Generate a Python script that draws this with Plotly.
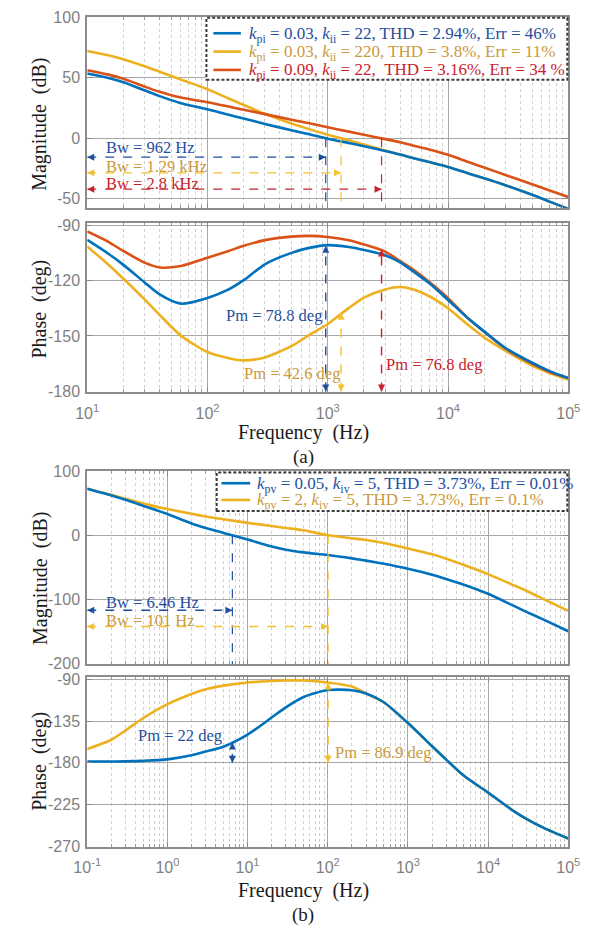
import plotly.graph_objects as go

# ---------------- (a) current loop: frequency response ----------------
freq_a = [10, 15, 20, 30, 40, 60, 100, 150, 200, 300, 500, 700,
          1000, 1500, 2000, 3000, 4000, 5000, 7000, 10000, 15000, 20000,
          30000, 50000, 70000, 100000]

mag_a_1 = [53.5, 49.8, 46.3, 39.6, 34.8, 29.0, 23.9, 19.3, 16.3, 11.8, 6.5, 3.3,
           -0.4, -4.0, -6.6, -10.6, -13.6, -16.2, -19.8, -23.8, -29.4, -33.2,
           -38.9, -46.8, -52.5, -58.5]
mag_a_2 = [72.2, 68.6, 65.3, 59.5, 55.0, 48.6, 40.5, 32.8, 27.5, 20.2, 12.2, 7.5,
           2.9, -1.8, -5.2, -10.2, -13.5, -16.2, -19.8, -23.8, -29.4, -33.2,
           -38.9, -46.8, -52.5, -58.5]
mag_a_3 = [56.2, 52.6, 49.2, 42.7, 38.4, 33.6, 29.8, 26.2, 23.5, 19.9, 15.3, 12.3,
           9.0, 5.4, 2.8, -0.8, -3.4, -5.8, -9.4, -13.8, -20.0, -24.3,
           -30.4, -38.2, -43.3, -48.7]

ph_a_1 = [-98.0, -105.5, -111.5, -121.0, -127.5, -132.5, -129.4, -124.8, -119.8,
          -111.2, -105.0, -102.3, -100.8, -101.8, -103.4, -106.3, -110.2, -114.5,
          -121.5, -130.5, -141.0, -147.5, -156.5, -164.5, -169.0, -172.8]
ph_a_2 = [-101.5, -111.4, -119.0, -130.2, -138.6, -149.8, -158.7, -162.0, -163.2,
          -161.6, -155.5, -149.5, -143.5, -134.8, -129.2, -124.8, -123.5, -124.5,
          -128.5, -135.0, -144.5, -150.8, -158.0, -166.0, -170.0, -173.6]
ph_a_3 = [-93.4, -99.0, -104.0, -110.3, -112.9, -112.1, -107.6, -104.0, -101.2,
          -98.1, -96.2, -95.8, -96.4, -98.2, -100.5, -104.3, -109.5, -113.5,
          -120.8, -129.5, -141.0, -147.8, -156.8, -165.0, -169.5, -172.7]

legend_a = [
    "<i>k</i><sub>pi</sub> = 0.03, <i>k</i><sub>ii</sub> = 22, THD = 2.94%, Err = 46%",
    "<i>k</i><sub>pi</sub> = 0.03, <i>k</i><sub>ii</sub> = 220, THD = 3.8%, Err = 11%",
    "<i>k</i><sub>pi</sub> = 0.09, <i>k</i><sub>ii</sub> = 22, \u00a0THD = 3.16%, Err = 34 %",
]
bw_a = [962, 1290, 2800]             # Hz
bw_a_text = ["Bw = 962 Hz", "Bw = 1.29 kHz", "Bw = 2.8 kHz"]
pm_a = [78.8, 42.6, 76.8]            # deg
pm_a_text = ["Pm = 78.8 deg", "Pm = 42.6 deg", "Pm = 76.8 deg"]

# ---------------- (b) voltage loop: frequency response ----------------
freq_b = [0.1, 0.2, 0.3, 0.5, 1, 2, 3, 5, 10, 20, 30, 50, 100, 200, 300, 500,
          1000, 2000, 3000, 5000, 10000, 20000, 30000, 50000, 100000]

mag_b_1 = [72.8, 62.3, 55.5, 46.0, 33.3, 18.5, 11.5, 3.8, -6.7, -17.6, -22.5,
           -26.6, -30.8, -36.0, -39.5, -44.5, -52.3, -61.5, -68.0, -77.0,
           -91.3, -109.0, -119.5, -132.0, -149.7]
mag_b_2 = [72.8, 63.2, 57.0, 49.5, 41.0, 33.6, 29.5, 25.0, 19.5, 14.5, 11.5,
           7.8, 0.1, -4.5, -7.3, -12.0, -20.5, -29.7, -36.5, -46.2,
           -60.5, -77.0, -86.5, -100.0, -118.0]

ph_b_1 = [-178.6, -178.5, -178.4, -177.8, -176.2, -171.8, -167.8, -162.5, -149.5,
          -131.0, -120.0, -108.8, -101.3, -101.5, -105.0, -114.5, -137.0, -162.0,
          -176.5, -194.0, -212.2, -231.0, -240.5, -250.5, -261.8]
ph_b_2 = [-165.1, -155.0, -145.0, -131.5, -116.6, -105.5, -100.5, -96.5, -93.2,
          -91.5, -91.0, -91.0, -93.1, -97.5, -105.0, -114.5, -137.0, -162.0,
          -176.5, -194.0, -212.2, -231.0, -240.5, -250.5, -261.8]

legend_b = [
    "<i>k</i><sub>pv</sub> = 0.05, <i>k</i><sub>iv</sub> = 5, THD = 3.73%, Err = 0.01%",
    "<i>k</i><sub>pv</sub> = 2, <i>k</i><sub>iv</sub> = 5, THD = 3.73%, Err = 0.1%",
]
bw_b = [6.46, 101]                   # Hz
bw_b_text = ["Bw = 6.46 Hz", "Bw = 101 Hz"]
pm_b = [22, 86.9]                    # deg
pm_b_text = ["Pm = 22 deg", "Pm = 86.9 deg"]

# tick labels
ytick_mag_a = [-50, 0, 50, 100]
ytick_ph_a = [-180, -150, -120, -90]
ytick_mag_b = [-200, -100, 0, 100]
ytick_ph_b = [-270, -225, -180, -135, -90]
xdec_a = [1, 2, 3, 4, 5]
xdec_b = [-1, 0, 1, 2, 3, 4, 5]

# ---------------- styling ----------------
W, H = 609, 936
LINE_COLORS = ["#0072BD", "#EDB120", "#D95319"]
TEXT_COLORS = ["#1f4f9e", "#c99a3a", "#c8232c"]
ARROW_COLORS = ["#1f4f9e", "#f5c02c", "#c8232c"]
SERIF = "Liberation Serif, Times New Roman, serif"
SANS = "Liberation Sans, Arial, sans-serif"
TICK_GREY = "#7f7f7f"


def px_x(p):
    return p / W


def px_y(p):
    return 1 - p / H


x_dom = [px_x(76.5), px_x(579)]
y_doms = {
    "y": [px_y(203.5), px_y(9.5)],
    "y2": [px_y(391), px_y(218.3)],
    "y3": [px_y(667.5), px_y(471)],
    "y4": [px_y(853.3), px_y(681)],
}
y_ranges = {"y": [-57.8, 100], "y2": [-180.5, -88.6], "y3": [-201, 100.5], "y4": [-270.6, -87.6]}
y_ticks = {"y": ytick_mag_a, "y2": ytick_ph_a, "y3": ytick_mag_b, "y4": ytick_ph_b}

fig = go.Figure()

panels = [
    ("x", "y", freq_a, [mag_a_1, mag_a_2, mag_a_3], legend_a),
    ("x2", "y2", freq_a, [ph_a_1, ph_a_2, ph_a_3], legend_a),
    ("x3", "y3", freq_b, [mag_b_1, mag_b_2], legend_b),
    ("x4", "y4", freq_b, [ph_b_1, ph_b_2], legend_b),
]
# draw order: yellow first, then red, blue on top where curves coincide
order = {3: [1, 2, 0], 2: [1, 0]}
for xa, ya, fr, series, names in panels:
    for i in order[len(series)]:
        fig.add_trace(go.Scatter(
            x=fr, y=series[i], xaxis=xa, yaxis=ya, mode="lines",
            line=dict(color=LINE_COLORS[i], width=2.6, shape="spline", smoothing=0.7),
            name=names[i], showlegend=False, hoverinfo="x+y"))


def marker_line(xa, ya, xs, ys, color, symbols, width=1.4):
    # dashed guide with arrow heads (tip of arrow-* symbols sits on the point)
    fig.add_trace(go.Scatter(
        x=xs, y=ys, xaxis=xa, yaxis=ya,
        mode="lines+markers" if symbols else "lines",
        line=dict(color=color, width=width, dash="dash"),
        marker=dict(symbol=symbols or "circle", size=7, color=color,
                    line=dict(width=0)),
        cliponaxis=False, showlegend=False, hoverinfo="skip"))


def minor_vals(d0, d1):
    return [m * 10 ** d for d in range(d0, d1) for m in range(2, 10)]


def xaxis_cfg(decs, show_labels, anchor):
    return dict(
        type="log", domain=x_dom, anchor=anchor,
        range=[decs[0], decs[-1]],
        tickmode="array",
        tickvals=[10 ** d for d in decs],
        ticktext=["10<sup>%d</sup>" % d for d in decs],
        showticklabels=show_labels,
        tickfont=dict(family=SANS, size=16, color=TICK_GREY),
        ticks="inside", ticklen=5, tickcolor="#8a8a8a",
        showgrid=True, gridcolor="#a8a8a8", gridwidth=1,
        showline=True, linecolor="#8c8c8c", linewidth=2, mirror="allticks",
        zeroline=False,
        minor=dict(tickvals=minor_vals(decs[0], decs[-1]), showgrid=True,
                   gridcolor="#cfcfcf", griddash="dot", gridwidth=1,
                   ticks="inside", ticklen=3, tickcolor="#9a9a9a"),
        ticklabelstandoff=5,
    )


def yaxis_cfg(key, anchor):
    return dict(
        domain=y_doms[key], anchor=anchor, range=y_ranges[key],
        tickmode="array", tickvals=y_ticks[key],
        ticktext=[str(v) for v in y_ticks[key]],
        tickfont=dict(family=SANS, size=16, color=TICK_GREY),
        ticks="inside", ticklen=5, tickcolor="#8a8a8a",
        showgrid=True, gridcolor="#a8a8a8", gridwidth=1,
        showline=True, linecolor="#8c8c8c", linewidth=2, mirror="allticks",
        zeroline=False, ticklabelstandoff=2,
    )


fig.update_layout(
    width=W, height=H, margin=dict(l=0, r=0, t=0, b=0),
    paper_bgcolor="white", plot_bgcolor="white",
    xaxis=xaxis_cfg(xdec_a, False, "y"),
    xaxis2=xaxis_cfg(xdec_a, True, "y2"),
    xaxis3=xaxis_cfg(xdec_b, False, "y3"),
    xaxis4=xaxis_cfg(xdec_b, True, "y4"),
    yaxis=yaxis_cfg("y", "x"),
    yaxis2=yaxis_cfg("y2", "x2"),
    yaxis3=yaxis_cfg("y3", "x3"),
    yaxis4=yaxis_cfg("y4", "x4"),
)

shapes = []
annos = []


def text(px, py, s, color, anchor="left", size=16.5):
    annos.append(dict(xref="paper", yref="paper", x=px_x(px), y=px_y(py), text=s,
                      showarrow=False, xanchor=anchor, yanchor="middle",
                      font=dict(family=SERIF, size=size, color=color)))


# ---- (a) magnitude: bandwidth markers ----
arrow_y_a = [-15.7, -28.7, -42.2]
text_y_a = [142, 161, 178.5]
for i in range(3):
    c = ARROW_COLORS[i]
    marker_line("x", "y", [bw_a[i], bw_a[i]], [0, y_ranges["y"][0]], c, None, 1.2)
    marker_line("x", "y", [freq_a[0], bw_a[i]], [arrow_y_a[i], arrow_y_a[i]], c,
                ["arrow-left", "arrow-right"])
    text(94.5, text_y_a[i], bw_a_text[i], TEXT_COLORS[i])

# ---- (a) phase: phase-margin markers ----
for i in range(3):
    marker_line("x2", "y2", [bw_a[i], bw_a[i]], [-180, -180 + pm_a[i]], ARROW_COLORS[i],
                ["arrow-down", "arrow-up"])
text(324, 313, pm_a_text[0], TEXT_COLORS[0], "right")
text(342.5, 372, pm_a_text[1], TEXT_COLORS[1], "right")
text(386.5, 363, pm_a_text[2], TEXT_COLORS[2], "left")

# ---- (b) magnitude: bandwidth markers ----
arrow_y_b = [-116.9, -142.4]
text_y_b = [605, 623]
for i in range(2):
    c = ARROW_COLORS[i]
    marker_line("x3", "y3", [bw_b[i], bw_b[i]], [0, y_ranges["y3"][0]], c, None, 1.2)
    marker_line("x3", "y3", [freq_b[0], bw_b[i]], [arrow_y_b[i], arrow_y_b[i]], c,
                ["arrow-left", "arrow-right"])
    text(94.5, text_y_b[i], bw_b_text[i], TEXT_COLORS[i])

# ---- (b) phase: phase-margin markers ----
for i in range(2):
    marker_line("x4", "y4", [bw_b[i], bw_b[i]], [-180, -180 + pm_b[i]], ARROW_COLORS[i],
                ["arrow-down", "arrow-up"])
text(219.5, 740, pm_b_text[0], TEXT_COLORS[0], "right")
text(333.5, 757.5, pm_b_text[1], TEXT_COLORS[1], "left")


# ---- legends (dashed frame, line sample, coloured entry text) ----
def legend(box, rows, sample_x, text_x, labels):
    x0, y0, x1, y1 = box
    shapes.append(dict(type="rect", xref="paper", yref="paper",
                       x0=px_x(x0), x1=px_x(x1), y0=px_y(y1), y1=px_y(y0),
                       fillcolor="white", layer="above",
                       line=dict(color="#3a3a3a", width=2, dash="3px,2px")))
    for i, lab in enumerate(labels):
        shapes.append(dict(type="line", xref="paper", yref="paper",
                           x0=px_x(sample_x[0]), x1=px_x(sample_x[1]),
                           y0=px_y(rows[i]), y1=px_y(rows[i]), layer="above",
                           line=dict(color=LINE_COLORS[i], width=2.6)))
        annos.append(dict(xref="paper", yref="paper", x=px_x(text_x), y=px_y(rows[i] + 1.5),
                          text=lab, showarrow=False, xanchor="left", yanchor="middle",
                          font=dict(family=SERIF, size=17, color=TEXT_COLORS[i])))


legend((201, 10, 578, 73), [25.7, 44.3, 63.0], (208.3, 237), 243, legend_a)
legend((211.7, 472.7, 578, 511.7), [483.5, 500.5], (216.7, 246.7), 252, legend_b)


# ---- axis titles and sub-figure captions ----
def vtitle(px, py, s):
    annos.append(dict(xref="paper", yref="paper", x=px_x(px), y=px_y(py), text=s,
                      showarrow=False, textangle=-90, xanchor="center", yanchor="middle",
                      font=dict(family=SERIF, size=20, color="#1a1a1a")))


vtitle(27, 118, "Magnitude \u00a0(dB)")
vtitle(27, 306, "Phase \u00a0(deg)")
vtitle(27, 580, "Magnitude \u00a0(dB)")
vtitle(27, 766, "Phase \u00a0(deg)")
text(302, 432, "Frequency \u00a0(Hz)", "#1a1a1a", "center", 20)
text(302, 457, "(a)", "#1a1a1a", "center", 19)
text(302, 898, "Frequency \u00a0(Hz)", "#1a1a1a", "center", 20)
text(302, 923, "(b)", "#1a1a1a", "center", 19)

fig.update_layout(shapes=shapes, annotations=annos)
fig.write_html("out.html")
